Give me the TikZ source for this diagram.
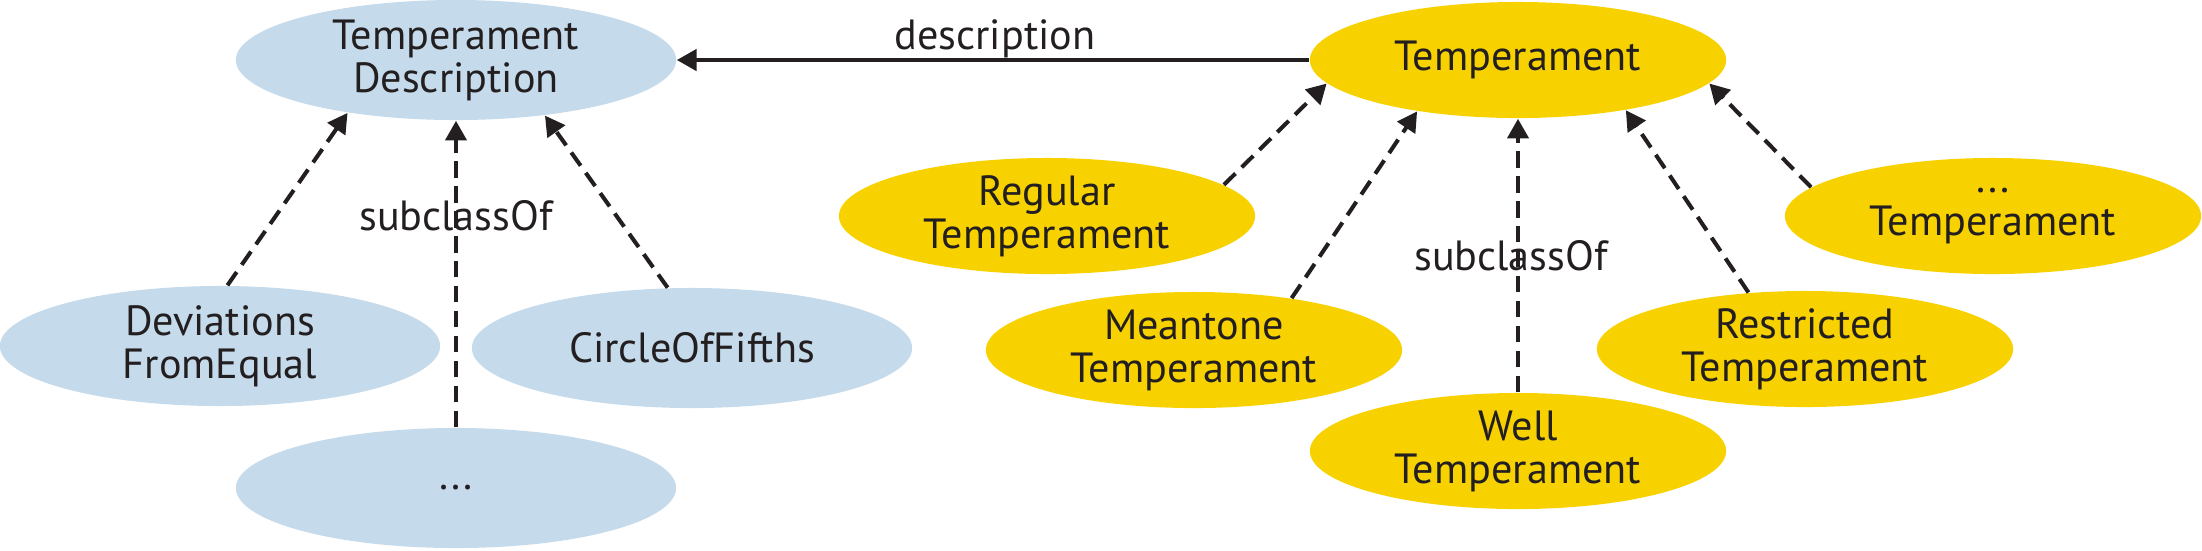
\documentclass[tikz,border=0pt]{standalone}
\usepackage{fontspec}
\setmainfont{PT Sans}
\usetikzlibrary{shapes.geometric,arrows.meta}
\definecolor{descblue}{HTML}{C5DAEA}
\definecolor{tempyellow}{HTML}{F7D200}
\definecolor{inkblack}{HTML}{231F20}
\begin{document}
\begin{tikzpicture}[x=0.01cm, y=-0.01cm, font=\fontsize{12}{12.2}\selectfont, text=inkblack, align=center,
    blueclass/.style={ellipse, fill=descblue, inner sep=0pt, minimum width=4.4cm, minimum height=1.2cm},
    yellowclass/.style={ellipse, fill=tempyellow, inner sep=0pt, minimum width=4.16cm, minimum height=1.16cm},
    subclass/.style={draw=inkblack, line width=1.15pt, dash pattern=on 4.6pt off 2.5pt, -{Triangle[width=6pt,length=5.6pt]}},
    relation/.style={draw=inkblack, line width=1.1pt, -{Triangle[width=6pt,length=5.6pt]}}]
    \useasboundingbox (0,0) rectangle (2202,550);
    % description classes
    \node[blueclass] (td) at (456,60) {Temperament\\Description};
    \node[blueclass] (dfe) at (220,346) {Deviations\\FromEqual};
    \node[blueclass] (cof) at (692,348) {CircleOfFifths};
    \node[blueclass] (dots) at (456,488) {...};
    % temperament classes
    \node[yellowclass] (temp) at (1518,60) {Temperament};
    \node[yellowclass] (reg) at (1047,216) {Regular\\Temperament};
    \node[yellowclass] (mean) at (1194,350) {Meantone\\Temperament};
    \node[yellowclass] (well) at (1518,451) {Well\\Temperament};
    \node[yellowclass] (restr) at (1805,349) {Restricted\\Temperament};
    \node[yellowclass] (moret) at (1993,216) {...\\Temperament};
    % labels
    \node[anchor=base] (desclabel) at (995,49) {description};
    \node[anchor=base] (subleft) at (456,230) {subclassOf};
    \node[anchor=base] (subright) at (1511,270) {subclassOf};
    % connectors
    \draw[relation] (temp) -- (td);
    \draw[subclass] (dfe.83) -- (td.206);
    \draw[subclass] (dots) -- (td);
    \draw[subclass] (cof.112) -- (td.328);
    \draw[subclass] (reg.10) -- (temp.187);
    \draw[subclass] (mean.28) -- (temp.207);
    \draw[subclass] (well) -- (temp);
    \draw[subclass] (restr.135) -- (temp.335);
    \draw[subclass] (moret.171) -- (temp.353);
\end{tikzpicture}
\end{document}
